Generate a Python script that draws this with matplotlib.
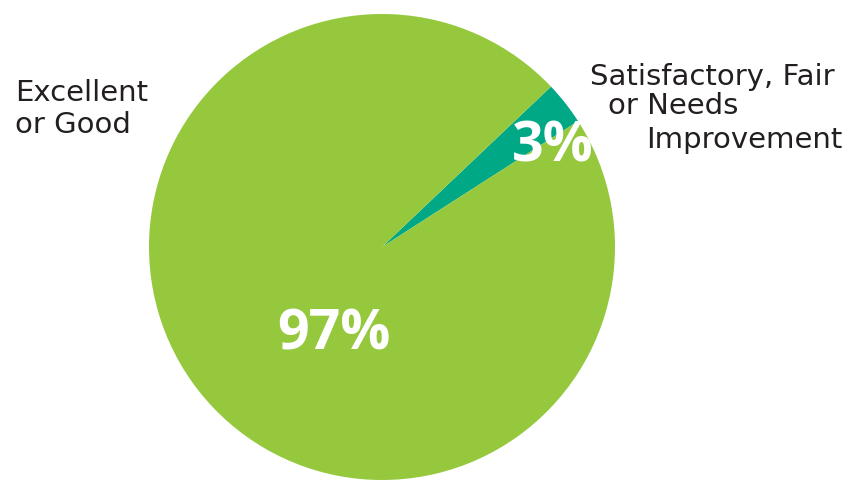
import matplotlib.pyplot as plt

W, H = 868, 481

GREEN = "#95c83d"
TEAL = "#00a886"
TEXT_COLOR = "#231f20"

categories = ["Satisfactory, Fair or Needs Improvement", "Excellent or Good"]
shares = [3, 97]
share_labels = ["3%", "97%"]
colors = [TEAL, GREEN]


def px(x, y):
    return x / W, 1 - y / H


fig = plt.figure(figsize=(W / 100, H / 100), dpi=100)
fig.patch.set_facecolor("white")

cx, cy, r = 382, 248, 233
ax = fig.add_axes([(cx - r) / W, (H - cy - r) / H, 2 * r / W, 2 * r / H])
ax.pie(shares, colors=colors, startangle=32.7, counterclock=True,
       radius=1, wedgeprops=dict(linewidth=0))
ax.set_xlim(-1, 1)
ax.set_ylim(-1, 1)
ax.set_aspect("auto")
ax.axis("off")

label_font = "DejaVu Sans"
pct_font = "Open Sans"
label_size = 21

# category labels
fig.text(*px(15, 101), "Excellent", fontsize=label_size, color=TEXT_COLOR,
         family=label_font, ha="left", va="baseline")
fig.text(*px(15, 133), "or Good", fontsize=label_size, color=TEXT_COLOR,
         family=label_font, ha="left", va="baseline")

right_lines = [("Satisfactory, Fair", 590, 85),
               ("or Needs", 608, 114),
               ("Improvement", 646, 148)]
for txt, x, y in right_lines:
    fig.text(*px(x, y), txt, fontsize=label_size, color=TEXT_COLOR,
             family=label_font, ha="left", va="baseline")

# percentage labels
fig.text(*px(512, 162), share_labels[0], fontsize=40, color="white",
         family=pct_font, weight="bold", ha="left", va="baseline")
fig.text(*px(277, 350), share_labels[1], fontsize=40, color="white",
         family=pct_font, weight="bold", ha="left", va="baseline")

fig.savefig("out.png", dpi=100, facecolor="white")
